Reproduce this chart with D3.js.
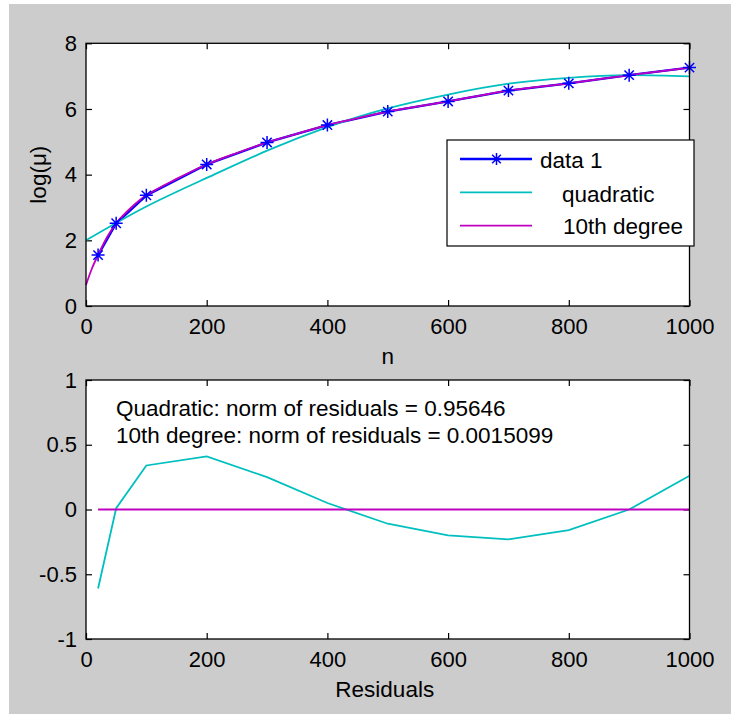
<!DOCTYPE html>
<html>
<head>
<meta charset="utf-8">
<script src="https://cdn.jsdelivr.net/npm/d3@7"></script>
<style>
  html, body { margin: 0; padding: 0; background: #ffffff; }
  svg { display: block; }
  text { font-family: "Liberation Sans", Arial, sans-serif; fill: #000; }
</style>
</head>
<body>
<svg id="chart" width="731" height="714"></svg>
<script>
// ---------------- data ----------------
const nValues = [20, 50, 100, 200, 300, 400, 500, 600, 700, 800, 900, 1000];
const logMu = [1.55, 2.52, 3.37, 4.31, 4.98, 5.51, 5.92, 6.23, 6.56, 6.78, 7.03, 7.26];

const quadN = [0, 100, 200, 300, 400, 500, 600, 700, 800, 900, 1000];
const quadFit = [2.00, 3.03, 3.90, 4.73, 5.45, 6.02, 6.44, 6.77, 6.95, 7.03, 6.99];

const tenthN = [0, 10, 20, 35, 50, 75, 100, 150, 200, 250, 300, 350, 400, 450, 500, 600, 700, 800, 900, 1000];
const tenthFit = [0.64, 1.15, 1.55, 2.10, 2.52, 3.00, 3.37, 3.87, 4.31, 4.66, 4.98, 5.25, 5.51, 5.72, 5.92, 6.23, 6.56, 6.78, 7.03, 7.26];

const residQuad = [-0.61, 0.01, 0.34, 0.41, 0.25, 0.05, -0.11, -0.20, -0.23, -0.16, 0.00, 0.26];
const residTenth = [0, 0, 0, 0, 0, 0, 0, 0, 0, 0, 0, 0];

const xTicks = [0, 200, 400, 600, 800, 1000];
const yTicksTop = [0, 2, 4, 6, 8];
const yTicksBottom = [-1, -0.5, 0, 0.5, 1];
const yTickLabelsBottom = ["-1", "-0.5", "0", "0.5", "1"];

const legendLabels = ["data 1", "quadratic", "10th degree"];
const annotationLines = [
  "Quadratic: norm of residuals = 0.95646",
  "10th degree: norm of residuals = 0.0015099"
];

// ---------------- style ----------------
const BG = "#cccccc";
const BLUE = "#0000ff";
const CYAN = "#00bfbf";
const MAGENTA = "#bf00bf";
const TICK_FONT = 22;
const LABEL_FONT = 22.5;

const svg = d3.select("#chart");
svg.append("rect").attr("x", 9).attr("y", 4).attr("width", 731 - 9).attr("height", 714 - 4).attr("fill", BG);

const left = 86, right = 689.5;
const topBox = { y0: 43.3, y1: 306 };
const botBox = { y0: 380, y1: 639 };

const x = d3.scaleLinear().domain([0, 1000]).range([left, right]);
const yTop = d3.scaleLinear().domain([0, 8]).range([topBox.y1, topBox.y0]);
const yBot = d3.scaleLinear().domain([-1, 1]).range([botBox.y1, botBox.y0]);

function drawAxes(g, yScale, box, yTickVals, yFmt) {
  g.append("rect").attr("x", left).attr("y", box.y0)
    .attr("width", right - left).attr("height", box.y1 - box.y0)
    .attr("fill", "#ffffff");
  const tick = 6;
  const gb = g.append("g").attr("transform", `translate(0,${box.y1})`)
    .call(d3.axisBottom(x).tickValues(xTicks).tickSizeInner(-tick).tickSizeOuter(0).tickPadding(12).tickFormat(d3.format("d")));
  const gt = g.append("g").attr("transform", `translate(0,${box.y0})`)
    .call(d3.axisTop(x).tickValues(xTicks).tickSizeInner(-tick).tickSizeOuter(0).tickFormat(""));
  const gl = g.append("g").attr("transform", `translate(${left},0)`)
    .call(d3.axisLeft(yScale).tickValues(yTickVals).tickSizeInner(-tick).tickSizeOuter(0).tickPadding(9).tickFormat(yFmt));
  const gr = g.append("g").attr("transform", `translate(${right},0)`)
    .call(d3.axisRight(yScale).tickValues(yTickVals).tickSizeInner(-tick).tickSizeOuter(0).tickFormat(""));
  [gb, gt, gl, gr].forEach(a => {
    a.select(".domain").remove();
    a.selectAll(".tick line").attr("stroke", "#000").attr("stroke-width", 1.2);
    a.selectAll("text").attr("font-size", TICK_FONT).attr("font-family", "Liberation Sans, Arial, sans-serif").attr("fill", "#000");
  });
  return g;
}

function drawBorder(g, box) {
  g.append("rect").attr("x", left).attr("y", box.y0)
    .attr("width", right - left).attr("height", box.y1 - box.y0)
    .attr("fill", "none").attr("stroke", "#000").attr("stroke-width", 1.3);
}

// ---------------- top plot ----------------
const gTop = svg.append("g");
drawAxes(gTop, yTop, topBox, yTicksTop, d3.format("d"));

const lineData = d3.line().x((d, i) => x(nValues[i])).y(d => yTop(d));
gTop.append("path").datum(logMu).attr("d", lineData)
  .attr("fill", "none").attr("stroke", BLUE).attr("stroke-width", 2.4);

const lineQuad = d3.line().x((d, i) => x(quadN[i])).y(d => yTop(d)).curve(d3.curveNatural);
gTop.append("path").datum(quadFit).attr("d", lineQuad)
  .attr("fill", "none").attr("stroke", CYAN).attr("stroke-width", 1.8);

const lineTenth = d3.line().x((d, i) => x(tenthN[i])).y(d => yTop(d)).curve(d3.curveCatmullRom);
gTop.append("path").datum(tenthFit).attr("d", lineTenth)
  .attr("fill", "none").attr("stroke", MAGENTA).attr("stroke-width", 1.8);

function asterisk(g, cx, cy, r, color) {
  const d = r * 0.72;
  const p = `M${cx - r},${cy}L${cx + r},${cy}M${cx},${cy - r}L${cx},${cy + r}` +
            `M${cx - d},${cy - d}L${cx + d},${cy + d}M${cx - d},${cy + d}L${cx + d},${cy - d}`;
  g.append("path").attr("d", p).attr("stroke", color).attr("stroke-width", 1.5).attr("fill", "none");
}
logMu.forEach((v, i) => asterisk(gTop, x(nValues[i]), yTop(v), 6.5, BLUE));

drawBorder(gTop, topBox);

// legend
const lg = svg.append("g").attr("transform", "translate(447,140)");
lg.append("rect").attr("width", 247).attr("height", 106)
  .attr("fill", "#ffffff").attr("stroke", "#000").attr("stroke-width", 1.2);
const legRowsY = [19, 52.3, 85.7];
const legTextY = [28.3, 61.7, 94.3];
const legTextX = [93, 115, 116];
const legColors = [BLUE, CYAN, MAGENTA];
legendLabels.forEach((lab, i) => {
  lg.append("line").attr("x1", 13).attr("x2", 85).attr("y1", legRowsY[i]).attr("y2", legRowsY[i])
    .attr("stroke", legColors[i]).attr("stroke-width", i === 0 ? 2.4 : 1.8);
  if (i === 0) asterisk(lg, 49.5, legRowsY[i], 6, BLUE);
  lg.append("text").attr("x", legTextX[i]).attr("y", legTextY[i]).attr("font-size", LABEL_FONT).text(lab);
});

// axis labels top
svg.append("text").attr("x", (left + right) / 2).attr("y", 364)
  .attr("text-anchor", "middle").attr("font-size", LABEL_FONT).text("n");
svg.append("text").attr("transform", `translate(46,${(topBox.y0 + topBox.y1) / 2}) rotate(-90)`)
  .attr("text-anchor", "middle").attr("font-size", LABEL_FONT).text("log(μ)");

// ---------------- bottom plot ----------------
const gBot = svg.append("g");
drawAxes(gBot, yBot, botBox, yTicksBottom, (d) => yTickLabelsBottom[yTicksBottom.indexOf(d)]);

const lineRes = d3.line().x((d, i) => x(nValues[i])).y(d => yBot(d));
gBot.append("path").datum(residQuad).attr("d", lineRes)
  .attr("fill", "none").attr("stroke", CYAN).attr("stroke-width", 1.8);
gBot.append("path").datum(residTenth).attr("d", lineRes)
  .attr("fill", "none").attr("stroke", MAGENTA).attr("stroke-width", 1.8);

annotationLines.forEach((t, i) => {
  gBot.append("text").attr("x", 116).attr("y", 416 + i * 27.3)
    .attr("font-size", LABEL_FONT).text(t);
});

drawBorder(gBot, botBox);

svg.append("text").attr("x", (left + right) / 2 - 3).attr("y", 697)
  .attr("text-anchor", "middle").attr("font-size", LABEL_FONT).text("Residuals");
</script>
</body>
</html>
